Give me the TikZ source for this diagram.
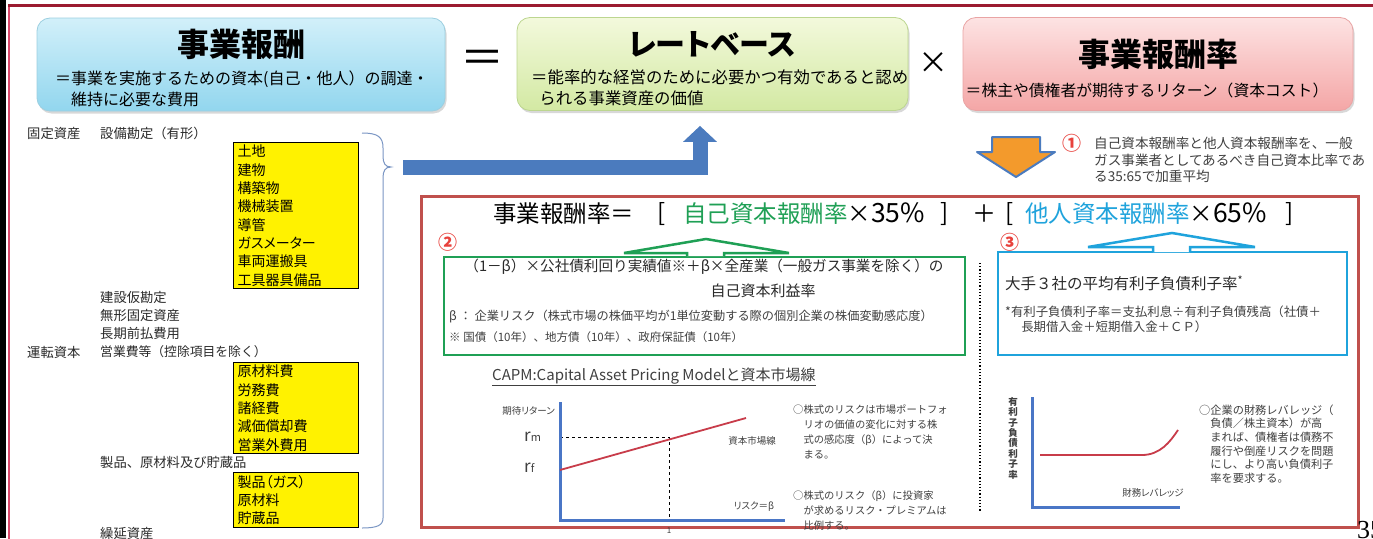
\documentclass[tikz,border=0pt]{standalone}
\usepackage{fontspec}
\setmainfont{Noto Sans CJK JP}
\newfontfamily\propfont{Noto Sans CJK JP}[RawFeature=+palt]
\newfontfamily\pagefont{Liberation Serif}
\usepackage{xcolor}
\usetikzlibrary{arrows.meta,shadows}

\definecolor{framemaroon}{HTML}{9B1B30}
\definecolor{framepink}{HTML}{D9486A}
\definecolor{framered}{HTML}{C0504D}
\definecolor{ownc}{HTML}{1FA055}
\definecolor{otherc}{HTML}{1FA3DC}
\definecolor{numred}{HTML}{E8413C}
\definecolor{axisblue}{HTML}{4A76C6}
\definecolor{curvered}{HTML}{C83C4A}
\definecolor{listgray}{HTML}{2A2A2A}
\definecolor{chartgray}{HTML}{404040}
\definecolor{bracecol}{HTML}{7A96C4}
\definecolor{arrowblue}{HTML}{4B7BBE}
\definecolor{arroworange}{HTML}{F39A2C}
\definecolor{rewardtop}{HTML}{D2F0FA}
\definecolor{rewardbot}{HTML}{92D6EE}
\definecolor{rewardline}{HTML}{9CCFE0}
\definecolor{basetop}{HTML}{F3F9DC}
\definecolor{basebot}{HTML}{D3E9A3}
\definecolor{baseline}{HTML}{BCD68F}
\definecolor{ratetop}{HTML}{FDE3E3}
\definecolor{ratebot}{HTML}{F4A6A6}
\definecolor{rateline}{HTML}{E9A4A4}

\begin{document}
\begin{tikzpicture}[
        x=1pt, y=-1pt,
        topbox/.style={rectangle, rounded corners=13pt, minimum height=93pt, line width=0.8pt, drop shadow={opacity=0.3, shadow xshift=1.5pt, shadow yshift=-2.5pt}},
        headline/.style={inner sep=0pt, font=\fontsize{32}{34}\selectfont\bfseries},
        subline/.style={anchor=west, align=left, inner sep=0pt, font=\fontsize{16}{21}\selectfont},
        listtext/.style={anchor=west, inner sep=0pt, text=listgray, font=\fontsize{13.3}{16}\selectfont},
        yellowbox/.style={rectangle, draw=black, line width=1.3pt, fill=yellow, anchor=north west, text width=117pt, align=left, inner xsep=4pt, inner ysep=0pt, font=\propfont\fontsize{14}{18.3}\selectfont},
        callbox/.style={rectangle, line width=2.5pt, fill=white},
        circlednum/.style={text=numred, inner sep=0pt, font=\fontsize{19}{19}\selectfont\bfseries},
        bigsign/.style={inner sep=0pt, font=\fontsize{24}{26}\selectfont},
        smalltext/.style={text=chartgray, inner sep=0pt, font=\propfont\fontsize{9.5}{11}\selectfont},
        notetext/.style={anchor=west, align=left, inner sep=0pt, text=chartgray},
        axis/.style={draw=axisblue, line width=3pt},
        curve/.style={draw=curvered, line width=1.8pt},
        bendarrow/.style={draw=arrowblue, line width=15pt, -{Triangle[length=16pt,width=33pt]}}
    ]

        \useasboundingbox (0,0) rectangle (1373,538);
        \fill[white] (0,0) rectangle (1373,538);

        % Slide frame
        \fill[black] (0,0) rectangle (6,538);
        \draw[framepink, line width=2pt] (9,540) -- (9,6);
        \draw[framemaroon, line width=3pt] (8,5) -- (1380,5);

        % Top: reward = rate base x rate
        \node[topbox, draw=rewardline, top color=rewardtop, bottom color=rewardbot, minimum width=408pt] (reward) at (241,64.5) {};
        \node[headline] (rewardtitle) at (241,44) {事業報酬};
        \node[subline] (rewardtext) at (55,88.5) {＝事業を実施するための資本(自己・他人）の調達・\\\hspace*{1em}維持に必要な費用};

        \node[inner sep=0pt, font=\fontsize{44}{44}\selectfont] (equal) at (482,62) {＝};

        \node[topbox, draw=baseline, top color=basetop, bottom color=basebot, minimum width=391pt] (ratebase) at (712.5,64) {};
        \node[headline, font=\propfont\fontsize{30}{34}\selectfont\bfseries] (ratebasetitle) at (712,44) {レートベース};
        \node[subline, font=\fontsize{16.4}{21}\selectfont] (ratebasetext) at (531,88) {＝能率的な経営のために必要かつ有効であると認め\\\hspace*{0.5em}られる事業資産の価値};

        \node[inner sep=0pt, font=\fontsize{30}{30}\selectfont] (times) at (933,63) {×};

        \node[topbox, draw=rateline, top color=ratetop, bottom color=ratebot, minimum width=390pt] (rate) at (1158,64) {};
        \node[headline] (ratetitle) at (1158,54) {事業報酬率};
        \node[inner sep=0pt, font=\fontsize{15.8}{21}\selectfont] (ratetext) at (1147,90) {＝株主や債権者が期待するリターン（資本コスト）};

        % Asset list
        \node[listtext] (fixedlabel) at (27,133) {固定資産};
        \node[listtext] (equiplabel) at (100,133) {設備勘定（有形）};
        \node[yellowbox, minimum height=146pt] (equipbox) at (233,142) {土地\\建物\\構築物\\機械装置\\導管\\ガスメーター\\車両運搬具\\工具器具備品};
        \node[listtext] (construction) at (100,297) {建設仮勘定};
        \node[listtext] (intangible) at (100,315) {無形固定資産};
        \node[listtext] (prepaid) at (100,333) {長期前払費用};
        \node[listtext] (worklabel) at (27,352) {運転資本};
        \node[listtext, font=\fontsize{12.8}{16}\selectfont] (opexlabel) at (100,352) {営業費等（控除項目を除く）};
        \node[yellowbox, minimum height=91pt] (opexbox) at (233,362) {原材料費\\労務費\\諸経費\\減価償却費\\営業外費用};
        \node[listtext] (stocklabel) at (100,462) {製品、原材料及び貯蔵品};
        \node[yellowbox, minimum height=55pt] (stockbox) at (233,472) {製品（ガス）\\原材料\\貯蔵品};
        \node[listtext] (deferred) at (100,533) {繰延資産};

        % Brace and arrow up to the rate base
        \draw[bracecol, line width=1pt] (362,133) .. controls (378,133) and (383,137) .. (383,148) -- (383,156) .. controls (383,163) and (385,167) .. (391,167) .. controls (385,167) and (383,171) .. (383,178) -- (383,518) .. controls (383,525) and (378,528) .. (362,528);
        \coordinate (arrowstart) at (403,167.5);
        \draw[bendarrow] (arrowstart) -| ([xshift=-12.5pt,yshift=-15pt]ratebase.south);

        % Arrow down from the rate and note 1
        \draw[fill=arroworange, draw=arrowblue, line width=2pt, line join=round] (992,137) -- (1040,137) -- (1040,152) -- (1055,152) -- (1016,177) -- (977,152) -- (992,152) -- cycle;
        \node[circlednum] (numone) at (1072,143) {①};
        \node[notetext, font=\fontsize{13.6}{16.5}\selectfont] (weightnote) at (1094,160) {自己資本報酬率と他人資本報酬率を、一般\\ガス事業者としてあるべき自己資本比率であ\\る35:65で加重平均};

        % Detail frame
        \draw[framered, line width=3pt] (421,196) rectangle (1358,527);
        \node[anchor=west, inner sep=0pt, font=\fontsize{23.5}{25}\selectfont] (formulahead) at (493,214) {事業報酬率＝};
        \node[bigsign] (ownopen) at (662,214) {[};
        \node[anchor=west, inner sep=0pt, font=\fontsize{23.5}{25}\selectfont] (ownpart) at (683,214) {\textcolor{ownc}{自己資本報酬率}×{\fontsize{26.5}{26}\selectfont 35\%}};
        \node[bigsign] (ownclose) at (945,214) {]};
        \node[bigsign] (plus) at (984,214) {＋};
        \node[bigsign] (otheropen) at (1010,214) {[};
        \node[anchor=west, inner sep=0pt, font=\fontsize{23.5}{25}\selectfont] (otherpart) at (1025,214) {\textcolor{otherc}{他人資本報酬率}×{\fontsize{26.5}{26}\selectfont 65\%}};
        \node[bigsign] (otherclose) at (1290,214) {]};

        % Own capital box (2)
        \node[callbox, draw=ownc, minimum width=521pt, minimum height=98pt] (ownbox) at (704.5,306) {};
        \draw[ownc, line width=2.5pt, fill=white] (687,256) -- (687,253) -- (624,253) -- (706,239) -- (789,253) -- (724,253) -- (724,256);
        \node[circlednum] (numtwo) at (448,242) {②};
        \node[inner sep=0pt, text=listgray, font=\fontsize{14.6}{17}\selectfont] (ownformula) at (704,267) {（1－β）×公社債利回り実績値※＋β×全産業（一般ガス事業を除く）の};
        \node[inner sep=0pt, text=listgray, font=\fontsize{15}{17}\selectfont] (ownroe) at (763,291) {自己資本利益率};
        \node[notetext, font=\fontsize{12.2}{14}\selectfont] (betanote) at (449,316) {β ： 企業リスク（株式市場の株価平均が1単位変動する際の個別企業の株価変動感応度）};
        \node[notetext, font=\fontsize{11.5}{14}\selectfont] (bondnote) at (449,337) {※ 国債（10年）、地方債（10年）、政府保証債（10年）};

        % Other capital box (3)
        \node[callbox, draw=otherc, minimum width=349pt, minimum height=103pt] (otherbox) at (1172.5,303.5) {};
        \draw[otherc, line width=2.5pt, fill=white] (1153,252) -- (1153,247) -- (1088,247) -- (1172,233) -- (1255,247) -- (1190,247) -- (1190,252);
        \node[circlednum] (numthree) at (1010,242) {③};
        \node[anchor=west, inner sep=0pt, text=listgray, font=\fontsize{15.5}{18}\selectfont] (bigthree) at (1005,283) {大手３社の平均有利子負債利子率\textsuperscript{*}};
        \node[notetext, font=\fontsize{12.4}{15}\selectfont] (interestnote) at (1005,319.5) {*有利子負債利子率＝支払利息÷有利子負債残高（社債＋\\\hspace*{1.3em}長期借入金＋短期借入金＋ＣＰ）};

        \draw[black, dotted, line width=1.2pt] (980,263) -- (980,512);

        % CAPM chart
        \node[anchor=west, inner sep=0pt, text=chartgray, font=\fontsize{15}{17}\selectfont] (capmtitle) at (492,377) {\underline{CAPM:Capital Asset Pricing Modelと資本市場線}};
        \draw[black, dashed, line width=0.8pt] (560,437) -- (669,437) -- (669,520);
        \draw[axis] (560,402) -- (560,520) -- (785,520);
        \draw[curve] (560,470) -- (746,418);
        \node[smalltext, anchor=east] (retlabel) at (555,411) {期待リターン};
        \node[anchor=west, inner sep=0pt, text=chartgray] (rmlabel) at (524,437) {{\fontsize{17}{17}\selectfont r}{\fontsize{11}{11}\selectfont m}};
        \node[anchor=west, inner sep=0pt, text=chartgray] (rflabel) at (524,468) {{\fontsize{17}{17}\selectfont r}{\fontsize{11}{11}\selectfont f}};
        \node[smalltext] (cmlabel) at (752,441) {資本市場線};
        \node[smalltext] (risklabel) at (754,507) {リスク＝β};
        \node[smalltext, font=\fontsize{8}{9}\selectfont] (onelabel) at (669,531) {1};
        \node[notetext, font=\fontsize{10.3}{15}\selectfont] (capmnote) at (793,432) {○株式のリスクは市場ポートフォ\\\hspace*{1em}リオの価値の変化に対する株\\\hspace*{1em}式の感応度（β）によって決\\\hspace*{1em}まる。};
        \node[notetext, font=\fontsize{10.3}{15}\selectfont] (premiumnote) at (793,511) {○株式のリスク（β）に投資家\\\hspace*{1em}が求めるリスク・プレミアムは\\\hspace*{1em}比例する。};

        % Leverage chart
        \draw[axis] (1032,397) -- (1032,507) -- (1180,507);
        \draw[curve] (1040,455) -- (1142,455) .. controls (1160,455) and (1170,442) .. (1178,430);
        \node[smalltext, align=center, font=\fontsize{9.5}{10.4}\selectfont\bfseries] (ratelabel) at (1013,438) {有\\利\\子\\負\\債\\利\\子\\率};
        \node[smalltext] (levlabel) at (1153,493) {財務レバレッジ};
        \node[notetext, font=\fontsize{11.2}{13.6}\selectfont] (levnote) at (1199,444) {○企業の財務レバレッジ（\\\hspace*{1em}負債／株主資本）が高\\\hspace*{1em}まれば、債権者は債務不\\\hspace*{1em}履行や倒産リスクを問題\\\hspace*{1em}にし、より高い負債利子\\\hspace*{1em}率を要求する。};

        % Page number
        \node[anchor=north west, inner sep=0pt, font=\pagefont\fontsize{26}{26}\selectfont] (pagenum) at (1357,521) {35};

    \end{tikzpicture}
\end{document}
